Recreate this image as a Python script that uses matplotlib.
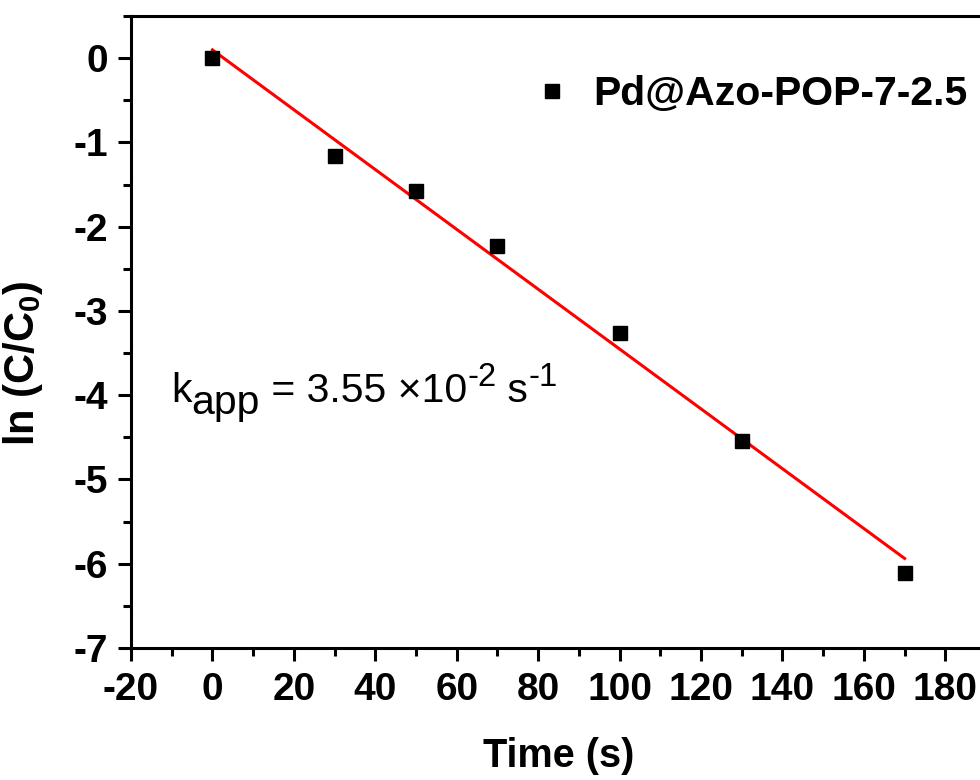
import matplotlib
matplotlib.use("Agg")
import matplotlib.pyplot as plt
from matplotlib.ticker import MultipleLocator

plt.rcParams['font.family'] = ['Liberation Sans', 'DejaVu Sans']
plt.rcParams['axes.unicode_minus'] = False
plt.rcParams['mathtext.fontset'] = 'custom'
plt.rcParams['mathtext.rm'] = 'Liberation Sans'
plt.rcParams['mathtext.it'] = 'Liberation Sans:italic'
plt.rcParams['mathtext.bf'] = 'Liberation Sans:bold'

# Data
time_s = [0, 30, 50, 70, 100, 130, 170]
ln_c_c0 = [0.0, -1.166, -1.572, -2.232, -3.267, -4.543, -6.11]
fit_x = [0, 170]
fit_slope = -0.0355
fit_intercept = 0.098
series_label = "Pd@Azo-POP-7-2.5"
x_ticks = list(range(-20, 181, 20))
y_ticks = list(range(-7, 1))

fig = plt.figure(figsize=(9.8, 7.8), dpi=100)
ax = fig.add_axes([131/980, 1 - 648/780, (986-131)/980, (648-16)/780])

ax.plot(time_s, ln_c_c0, linestyle='none', marker='s', markersize=10.5,
        color='black', label=series_label, zorder=3)
fit_y = [fit_intercept + fit_slope * x for x in fit_x]
ax.plot(fit_x, fit_y, color='#ff0000', linewidth=2.2, zorder=2)

ax.set_xlim(-20, 190)
ax.set_ylim(-7, 0.5)
ax.set_xticks(x_ticks)
ax.set_yticks(y_ticks)
ax.xaxis.set_minor_locator(MultipleLocator(10))
ax.yaxis.set_minor_locator(MultipleLocator(0.5))

for sp in ax.spines.values():
    sp.set_linewidth(2.2)

ax.tick_params(which='major', direction='out', length=9.5, width=2.2,
               labelsize=28, pad=7)
ax.tick_params(axis='x', which='major', pad=8)
ax.tick_params(which='minor', direction='out', length=5.5, width=2.2)
for lbl in ax.get_xticklabels() + ax.get_yticklabels():
    lbl.set_fontweight('bold')

ax.set_xlabel('Time (s)', fontsize=28.5, fontweight='bold', labelpad=21)
ax.set_ylabel(r'ln (C/C$_{\mathbf{0}}$)', fontsize=30, fontweight='bold')
ax.yaxis.set_label_coords(-0.100, 0.45)

# rate-constant annotation built from chained pieces (text, size, baseline shift pt)
pieces = [("k", 29.5, 0.0), ("app", 29.5, -8.6), (" = 3.55 ×10", 29.5, 0.0),
          ("-2", 23.5, 11.5), (" s", 29.5, 0.0), ("-1", 23.5, 11.5)]
desc = 0.21
t = ax.text(-10.2, -4.084, pieces[0][0], fontsize=pieces[0][1],
            ha='left', va='baseline')
prev_fs, prev_dy = pieces[0][1], pieces[0][2]
for s, fs, dy in pieces[1:]:
    off = (dy - prev_dy) + desc * (prev_fs - fs)
    t = ax.annotate(s, xy=(1, 0), xycoords=t, xytext=(0, off),
                    textcoords='offset points', fontsize=fs,
                    ha='left', va='bottom')
    prev_fs, prev_dy = fs, dy

leg = ax.legend(loc='center left', bbox_to_anchor=(0.473, 0.876), frameon=False,
                prop={'size': 29.5, 'weight': 'bold'}, handlelength=0.8,
                handletextpad=0.6, markerscale=0.9, borderaxespad=0,
                borderpad=0)

fig.savefig('out.png', dpi=100)
